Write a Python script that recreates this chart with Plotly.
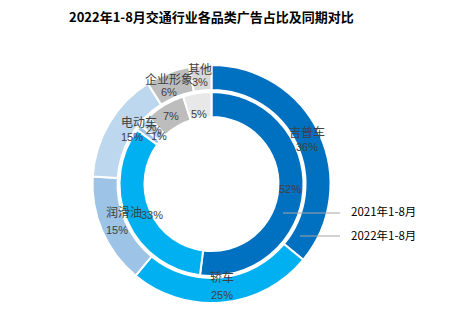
import math
import plotly.graph_objects as go

# ---- data ----
categories = ["吉普车", "轿车", "润滑油", "电动车", "企业形象", "其他"]
share_2022 = [36, 25, 15, 15, 6, 3]   # outer ring, 2022年1-8月
share_2021 = [52, 33, 1, 2, 7, 5]     # inner ring, 2021年1-8月
series_names = ["2021年1-8月", "2022年1-8月"]
title_text = "2022年1-8月交通行业各品类广告占比及同期对比"

# ---- styling / layout ----
colors_outer = ["#0070C0", "#00B0F0", "#9DC3E6", "#BDD7EE", "#BDBDBD", "#D9D9D9"]
colors_inner = ["#0070C0", "#00B0F0", "#9DC3E6", "#BDD7EE", "#BDBDBD", "#E8E8E8"]
outer_label_radius = [105, 111, 117, 108, 116, 119]   # px, best-fit label placement
inner_label_radius = 79

W, H = 461, 327
cx, cy = 211.5, 184.0
R_out, R_out_in = 119.0, 94.0
R_in, R_in_in = 92.0, 67.0

def dom(r):
    return dict(x=[(cx - r) / W, (cx + r) / W],
                y=[(H - cy - r) / H, (H - cy + r) / H])

fig = go.Figure()
fig.add_trace(go.Pie(
    labels=categories, values=share_2022, name=series_names[1],
    domain=dom(R_out), hole=R_out_in / R_out, sort=False,
    direction="clockwise", rotation=0, textinfo="none",
    marker=dict(colors=colors_outer, line=dict(color="white", width=2)),
    hoverinfo="skip", showlegend=False))
fig.add_trace(go.Pie(
    labels=categories, values=share_2021, name=series_names[0],
    domain=dom(R_in), hole=R_in_in / R_in, sort=False,
    direction="clockwise", rotation=0, textinfo="none",
    marker=dict(colors=colors_inner, line=dict(color="white", width=2)),
    hoverinfo="skip", showlegend=False))

def pos(frac, r):
    a = 2 * math.pi * frac
    x = cx + r * math.sin(a)
    y = cy - r * math.cos(a)
    return x / W, 1 - y / H

font_cjk = "Noto Sans CJK SC, sans-serif"
font_num = "Liberation Sans, Arial, sans-serif"
ann = []
# outer labels (name + percent)
tot = sum(share_2022)
cum = 0
for name, v, rr in zip(categories, share_2022, outer_label_radius):
    mid = (cum + v / 2) / tot
    cum += v
    x, y = pos(mid, rr)
    ann.append(dict(x=x, y=y, xref="paper", yref="paper", text=name, showarrow=False,
                    yshift=8, font=dict(family=font_cjk, size=12, color="#404040")))
    ann.append(dict(x=x, y=y, xref="paper", yref="paper", text=f"{v}%", showarrow=False,
                    yshift=-8, font=dict(family=font_num, size=11, color="#404040")))
# inner labels (percent)
tot = sum(share_2021)
cum = 0
for name, v in zip(categories, share_2021):
    mid = (cum + v / 2) / tot
    cum += v
    x, y = pos(mid, inner_label_radius)
    ann.append(dict(x=x, y=y, xref="paper", yref="paper", text=f"{v}%", showarrow=False,
                    font=dict(family=font_num, size=11, color="#404040")))

# series callouts
ann.append(dict(x=349 / W, y=1 - 211 / H, xref="paper", yref="paper", xanchor="left",
                yanchor="middle", text=series_names[0], showarrow=False,
                font=dict(family=font_cjk, size=11.5, color="#000000")))
ann.append(dict(x=349 / W, y=1 - 235 / H, xref="paper", yref="paper", xanchor="left",
                yanchor="middle", text=series_names[1], showarrow=False,
                font=dict(family=font_cjk, size=11.5, color="#000000")))
shapes = [
    dict(type="line", xref="paper", yref="paper", x0=283 / W, x1=340 / W,
         y0=1 - 213 / H, y1=1 - 213 / H, line=dict(color="#A6A6A6", width=1)),
    dict(type="line", xref="paper", yref="paper", x0=300 / W, x1=340 / W,
         y0=1 - 236 / H, y1=1 - 236 / H, line=dict(color="#A6A6A6", width=1)),
]

ann.append(dict(x=211 / W, y=1 - 17 / H, xref="paper", yref="paper", yanchor="middle",
                text=f"<b>{title_text}</b>", showarrow=False,
                font=dict(family=font_cjk, size=13, color="#000000")))

fig.update_layout(width=W, height=H,
                  margin=dict(l=0, r=0, t=0, b=0, pad=0, autoexpand=False),
                  paper_bgcolor="white", plot_bgcolor="white",
                  annotations=ann, shapes=shapes, showlegend=False)
fig.write_html("out.html")
